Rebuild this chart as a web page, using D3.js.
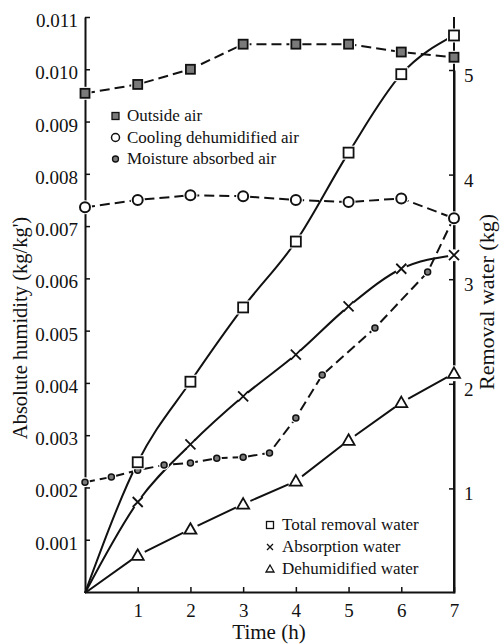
<!DOCTYPE html>
<html><head><meta charset="utf-8">
<script src="https://cdn.jsdelivr.net/npm/d3@7"></script>
<style>body{margin:0;background:#fff}svg{display:block}</style>
</head><body><svg id="c" width="500" height="644"></svg>
<script>
// ---- data ----
const hours = [0,1,2,3,4,5,6,7];
const outsideAir = [0.00954,0.00971,0.01000,0.01048,0.01048,0.01048,0.01033,0.01023];
const coolingAir = [0.00736,0.00750,0.00759,0.00757,0.00750,0.00746,0.00753,0.00715];
const moistureT = [0,0.5,1,1.5,2,2.5,3,3.5,4,4.5,5.5,6.5,7];
const moistureAir = [0.00210,0.00220,0.00233,0.00243,0.00247,0.00256,0.00258,0.00266,0.00333,0.00415,0.00505,0.00612,0.00717];
const totalWater = [0,1.25,2.02,2.73,3.36,4.21,4.96,5.33];
const absorptionWater = [0,0.87,1.42,1.88,2.28,2.74,3.10,3.23];
const dehumWater = [0,0.36,0.61,0.85,1.07,1.46,1.82,2.10];
const leftTicks = [0.001,0.002,0.003,0.004,0.005,0.006,0.007,0.008,0.009,0.010,0.011];
const rightTicks = [1,2,3,4,5];
const xTicks = [1,2,3,4,5,6,7];

const SERIF = "Liberation Serif";
const svg = d3.select("#c");
const x = d3.scaleLinear([0,7],[85,454]);
const yL = d3.scaleLinear([0,0.011],[592,17]);
const yR = d3.scaleLinear([0,5],[593,70]);

const gL = svg.append("g").attr("transform","translate(85,0)")
  .call(d3.axisLeft(yL).tickValues(leftTicks).tickFormat(d3.format(".3f")).tickSize(-5).tickSizeOuter(0).tickPadding(7));
const gB = svg.append("g").attr("transform","translate(0,592)")
  .call(d3.axisBottom(x).tickValues(xTicks).tickFormat(d3.format("d")).tickSize(-5).tickSizeOuter(0).tickPadding(12));
const gR = svg.append("g").attr("transform","translate(454,0)")
  .call(d3.axisRight(yR).tickValues(rightTicks).tickFormat(d3.format("d")).tickSize(-5).tickSizeOuter(0).tickPadding(10));
svg.append("line").attr("x1",454).attr("x2",454).attr("y1",yR(0)).attr("y2",17).attr("stroke","#111").attr("stroke-width",2);
[gL,gB,gR].forEach(g=>{
  g.attr("font-family",SERIF).attr("font-size",19);
  g.selectAll("path.domain").attr("stroke","#111").attr("stroke-width",2);
  g.selectAll(".tick line").attr("stroke","#111").attr("stroke-width",1.5);
  g.selectAll(".tick text").style("font-family",SERIF).style("font-size","19px").attr("fill","#111");
});
gL.selectAll(".tick text").attr("dy","0.5em");
gR.selectAll(".tick text").attr("dy","0.6em");

svg.append("text").attr("transform","translate(27,328) rotate(-90)").attr("text-anchor","middle").style("font-family",SERIF).style("font-size","20.5px").attr("fill","#111").text("Absolute humidity (kg/kg')");
svg.append("text").attr("transform","translate(494,302) rotate(-90)").attr("text-anchor","middle").style("font-family",SERIF).style("font-size","22px").attr("fill","#111").text("Removal water (kg)");
svg.append("text").attr("x",269).attr("y",639).attr("text-anchor","middle").style("font-family",SERIF).style("font-size","21px").attr("fill","#111").text("Time (h)");

function drawLine(xs, ys, yScale, dashed, curve){
  const pts = xs.map((t,i)=>[x(t), yScale(ys[i])]);
  svg.append("path").attr("d", d3.line().curve(curve)(pts)).attr("fill","none")
    .attr("stroke","#111").attr("stroke-width",2)
    .attr("stroke-dasharray", dashed ? "10,5" : null);
  return pts;
}
const pOut = drawLine(hours, outsideAir, yL, true, d3.curveLinear);
const pCool = drawLine(hours, coolingAir, yL, true, d3.curveLinear);
const pMoist = drawLine(moistureT, moistureAir, yL, true, d3.curveLinear);
const pTot = drawLine(hours, totalWater, yR, false, d3.curveMonotoneX);
const pAbs = drawLine(hours, absorptionWater, yR, false, d3.curveMonotoneX);
const pDeh = drawLine(hours, dehumWater, yR, false, d3.curveLinear);

function sq(px,py,s,fill){
  svg.append("rect").attr("x",px-s/2-2).attr("y",py-s/2-2).attr("width",s+4).attr("height",s+4).attr("fill","#fff");
  svg.append("rect").attr("x",px-s/2).attr("y",py-s/2).attr("width",s).attr("height",s).attr("fill",fill).attr("stroke","#111").attr("stroke-width",1.8);
}
function circ(px,py,r,fill,sw){
  svg.append("circle").attr("cx",px).attr("cy",py).attr("r",r+2).attr("fill","#fff");
  svg.append("circle").attr("cx",px).attr("cy",py).attr("r",r).attr("fill",fill).attr("stroke","#111").attr("stroke-width",sw);
}
function cross(px,py,s){
  svg.append("circle").attr("cx",px).attr("cy",py).attr("r",s+1).attr("fill","#fff");
  svg.append("path").attr("d",`M${px-s},${py-s}L${px+s},${py+s}M${px-s},${py+s}L${px+s},${py-s}`).attr("stroke","#111").attr("stroke-width",1.8);
}
function tri(px,py,s){
  svg.append("circle").attr("cx",px).attr("cy",py).attr("r",s+2).attr("fill","#fff");
  svg.append("path").attr("d",`M${px},${py-s}L${px+s},${py+s*0.75}L${px-s},${py+s*0.75}Z`).attr("fill","#fff").attr("stroke","#111").attr("stroke-width",1.8);
}
pOut.forEach(p=>sq(p[0],p[1],9,"#7a7a7a"));
pCool.forEach(p=>circ(p[0],p[1],5,"#fff",2));
pMoist.forEach((p,i)=>{ if(i<pMoist.length-1) circ(p[0],p[1],3,"#7a7a7a",1.5); });
pTot.slice(1).forEach(p=>sq(p[0],p[1],10,"#fff"));
pAbs.slice(1).forEach(p=>cross(p[0],p[1],5));
pDeh.slice(1).forEach(p=>tri(p[0],p[1],6));

const legTop = ["Outside air","Cooling dehumidified air","Moisture absorbed air"];
const legBot = ["Total removal water","Absorption water","Dehumidified water"];
legTop.forEach((t,i)=>{
  const ly = 116 + i*21.5;
  if(i===0) svg.append("rect").attr("x",112).attr("y",ly-3.5).attr("width",7).attr("height",7).attr("fill","#7a7a7a").attr("stroke","#111").attr("stroke-width",1.3);
  if(i===1) svg.append("circle").attr("cx",115.5).attr("cy",ly).attr("r",4).attr("fill","#fff").attr("stroke","#111").attr("stroke-width",1.5);
  if(i===2) svg.append("circle").attr("cx",115.5).attr("cy",ly).attr("r",3).attr("fill","#7a7a7a").attr("stroke","#111").attr("stroke-width",1.3);
  svg.append("text").attr("x",127).attr("y",ly+5).style("font-family",SERIF).style("font-size","17px").attr("fill","#111").text(t);
});
legBot.forEach((t,i)=>{
  const ly = 525 + i*22;
  const lx = 270;
  if(i===0) svg.append("rect").attr("x",lx-3.5).attr("y",ly-3.5).attr("width",7).attr("height",7).attr("fill","#fff").attr("stroke","#111").attr("stroke-width",1.3);
  if(i===1) svg.append("path").attr("d",`M${lx-3},${ly-3}L${lx+3},${ly+3}M${lx-3},${ly+3}L${lx+3},${ly-3}`).attr("stroke","#111").attr("stroke-width",1.3);
  if(i===2) svg.append("path").attr("d",`M${lx},${ly-4}L${lx+4},${ly+3}L${lx-4},${ly+3}Z`).attr("fill","#fff").attr("stroke","#111").attr("stroke-width",1.3);
  svg.append("text").attr("x",282).attr("y",ly+5).style("font-family",SERIF).style("font-size","17px").attr("fill","#111").text(t);
});
</script></body></html>
